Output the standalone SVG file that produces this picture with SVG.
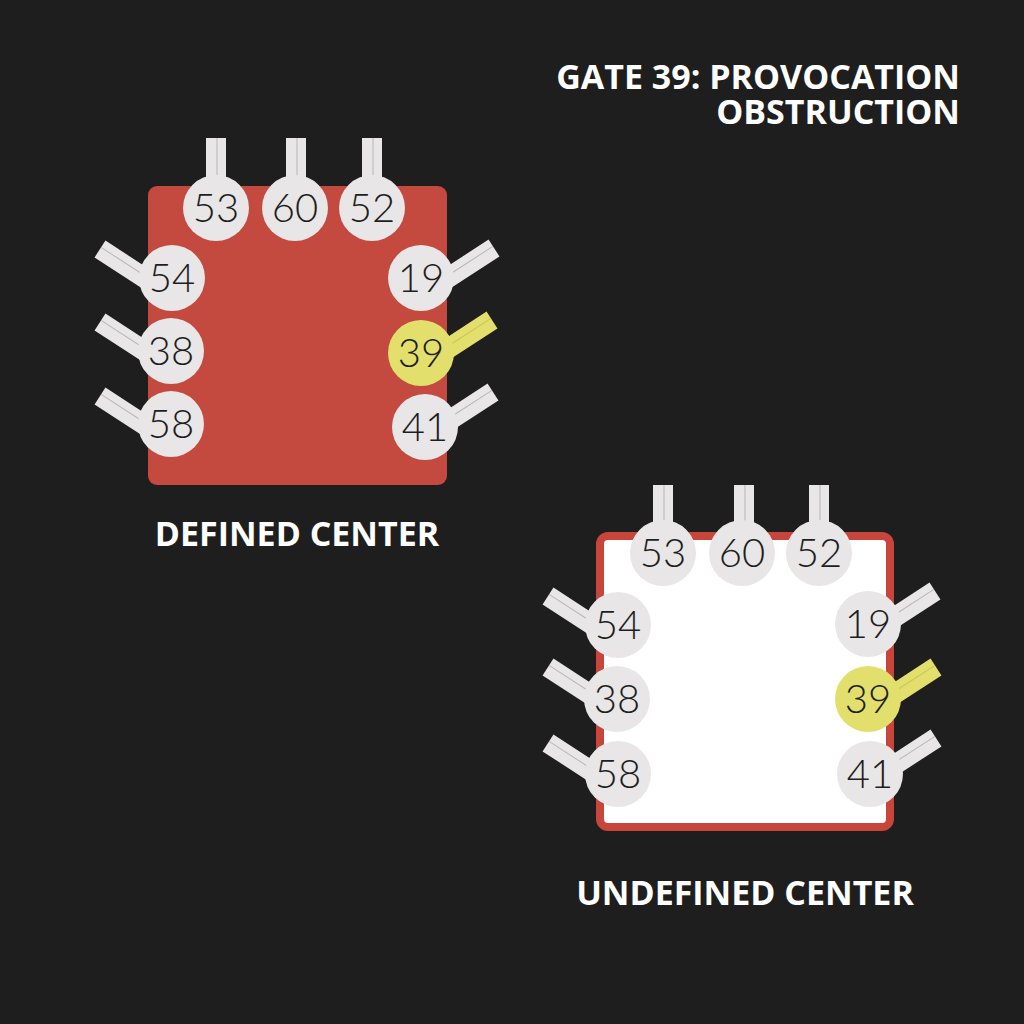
<svg xmlns="http://www.w3.org/2000/svg" width="1024" height="1024" viewBox="0 0 1024 1024">
<style>
.bg{fill:#1e1e1e}
.tab{fill:#e8e6e6}
.tabline{stroke:#b8b6b6;stroke-width:1}
.ytab{fill:#e2df6c}
.ytabline{stroke:#c9c558;stroke-width:1}
.gate{fill:#e8e6e6}
.ygate{fill:#e2df6c}
.num{font-family:Lato,"Open Sans","Liberation Sans",sans-serif;font-weight:300;font-size:40px;fill:#1e1e1e;text-anchor:middle}
.title{font-family:"Open Sans","Noto Sans","Liberation Sans",sans-serif;font-weight:700;font-size:34px;fill:#ffffff}
.label{font-family:"Open Sans","Noto Sans","Liberation Sans",sans-serif;font-weight:700;font-size:34px;fill:#ffffff;text-anchor:middle}
</style>
<defs>
<g id="vtab"><rect class="tab" x="-10" y="0" width="20" height="50"/><line class="tabline" x1="1" y1="0" x2="1" y2="50"/></g>
<g id="ltab"><rect class="tab" x="0" y="-10" width="62" height="20"/><line class="tabline" x1="0" y1="-2" x2="55" y2="-2"/></g>
<g id="rtab"><rect class="tab" x="-62" y="-10" width="62" height="20"/><line class="tabline" x1="-55" y1="-2" x2="0" y2="-2"/></g>
<g id="rtaby"><rect class="ytab" x="-62" y="-10" width="62" height="20"/><line class="ytabline" x1="-55" y1="-2" x2="0" y2="-2"/></g>
</defs>
<rect class="bg" x="0" y="0" width="1024" height="1024"/>

<g id="title">
<text class="title" text-anchor="end"><tspan x="960" y="89">GATE 39: PROVOCATION</tspan><tspan x="960" y="124">OBSTRUCTION</tspan></text>
</g>

<g id="defined-center">
<rect x="148" y="186" width="299" height="299" rx="9" fill="#c4493f"/>
</g>
<g id="connectors-defined">
<use href="#vtab" x="216" y="138"/>
<use href="#vtab" x="296" y="138"/>
<use href="#vtab" x="372" y="138"/>
<use href="#ltab" transform="translate(100,249) rotate(33)"/>
<use href="#ltab" transform="translate(100,322) rotate(33)"/>
<use href="#ltab" transform="translate(100,396) rotate(33)"/>
<use href="#rtab" transform="translate(494,248) rotate(-33)"/>
<use href="#rtaby" transform="translate(492,320) rotate(-33)"/>
<use href="#rtab" transform="translate(493,392) rotate(-33)"/>
</g>
<g id="d-gate-53"><circle class="gate" cx="216" cy="208" r="33"/><text class="num" x="216" y="222">53</text></g>
<g id="d-gate-60"><circle class="gate" cx="295" cy="208" r="33"/><text class="num" x="295" y="222">60</text></g>
<g id="d-gate-52"><circle class="gate" cx="372" cy="208" r="33"/><text class="num" x="372" y="222">52</text></g>
<g id="d-gate-54"><circle class="gate" cx="172" cy="278" r="33"/><text class="num" x="172" y="292">54</text></g>
<g id="d-gate-38"><circle class="gate" cx="171" cy="351" r="33"/><text class="num" x="171" y="365">38</text></g>
<g id="d-gate-58"><circle class="gate" cx="171" cy="424" r="33"/><text class="num" x="171" y="438">58</text></g>
<g id="d-gate-19"><circle class="gate" cx="421" cy="278" r="33"/><text class="num" x="421" y="292">19</text></g>
<g id="d-gate-39"><circle class="ygate" cx="421" cy="353" r="33"/><text class="num" x="421" y="367">39</text></g>
<g id="d-gate-41"><circle class="gate" cx="425" cy="427" r="33"/><text class="num" x="425" y="441">41</text></g>
<text class="label" x="297" y="546">DEFINED CENTER</text>

<g id="undefined-center">
<rect x="600" y="536" width="290" height="291" rx="8" fill="#ffffff" stroke="#c8453c" stroke-width="8"/>
</g>
<g id="connectors-undefined">
<use href="#vtab" x="663" y="485"/>
<use href="#vtab" x="744" y="485"/>
<use href="#vtab" x="819" y="485"/>
<use href="#ltab" transform="translate(548,596) rotate(33)"/>
<use href="#ltab" transform="translate(548,667) rotate(33)"/>
<use href="#ltab" transform="translate(548,743) rotate(33)"/>
<use href="#rtab" transform="translate(935,591) rotate(-33)"/>
<use href="#rtaby" transform="translate(936,667) rotate(-33)"/>
<use href="#rtab" transform="translate(936,738) rotate(-33)"/>
</g>
<g id="u-gate-53"><circle class="gate" cx="663" cy="553" r="33"/><text class="num" x="663" y="567">53</text></g>
<g id="u-gate-60"><circle class="gate" cx="742" cy="553" r="33"/><text class="num" x="742" y="567">60</text></g>
<g id="u-gate-52"><circle class="gate" cx="819" cy="553" r="33"/><text class="num" x="819" y="567">52</text></g>
<g id="u-gate-54"><circle class="gate" cx="618" cy="625" r="33"/><text class="num" x="618" y="639">54</text></g>
<g id="u-gate-38"><circle class="gate" cx="617" cy="699" r="33"/><text class="num" x="617" y="713">38</text></g>
<g id="u-gate-58"><circle class="gate" cx="618" cy="774" r="33"/><text class="num" x="618" y="788">58</text></g>
<g id="u-gate-19"><circle class="gate" cx="868" cy="624" r="33"/><text class="num" x="868" y="638">19</text></g>
<g id="u-gate-39"><circle class="ygate" cx="868" cy="699" r="33"/><text class="num" x="868" y="713">39</text></g>
<g id="u-gate-41"><circle class="gate" cx="870" cy="774" r="33"/><text class="num" x="870" y="788">41</text></g>
<text class="label" x="745" y="905">UNDEFINED CENTER</text>
</svg>
